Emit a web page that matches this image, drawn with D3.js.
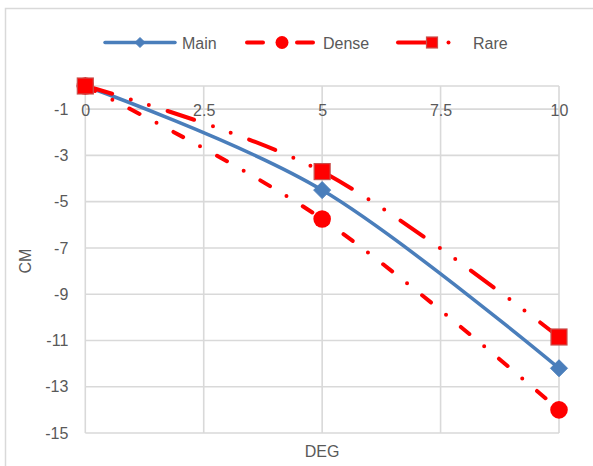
<!DOCTYPE html>
<html>
<head>
<meta charset="utf-8">
<script src="https://cdn.jsdelivr.net/npm/d3@7"></script>
<style>
  html, body { margin: 0; padding: 0; background: #fff; }
  svg { display: block; }
  text { font-family: "Liberation Sans", Arial, sans-serif; fill: #595959; }
</style>
</head>
<body>
<script>
// Deflection (CM) against angle (DEG) for three configurations
const degrees = [0, 5, 10];
const mainValues = [0, -4.5, -12.2];
const denseValues = [0, -5.75, -14.0];
const rareValues = [0, -3.7, -10.85];
const seriesNames = ["Main", "Dense", "Rare"];
const xTicks = [0, 2.5, 5, 7.5, 10];
const yTicks = [-1, -3, -5, -7, -9, -11, -13, -15];

const W = 593, H = 466;
const plot = { left: 85.3, right: 559, top: 86, bottom: 433 };
const fontSize = "16px";

const svg = d3.select("body").append("svg").attr("width", W).attr("height", H);

// chart area outline (left and top edges visible)
svg.append("path")
  .attr("d", `M5.5,${H}V8.5H${W}`)
  .attr("fill", "none").attr("stroke", "#d9d9d9").attr("stroke-width", 1.5);

const x = d3.scaleLinear().domain([0, 10]).range([plot.left, plot.right]);
const y = d3.scaleLinear().domain([0, -15]).range([plot.top, plot.bottom]);

// gridlines
const grid = svg.append("g").attr("stroke", "#d9d9d9").attr("stroke-width", 1.6);
grid.selectAll("line.h").data([0, ...yTicks]).join("line").attr("class", "h")
  .attr("x1", plot.left).attr("x2", plot.right)
  .attr("y1", d => y(d)).attr("y2", d => y(d));
grid.selectAll("line.v").data(xTicks).join("line").attr("class", "v")
  .attr("y1", plot.top).attr("y2", plot.bottom)
  .attr("x1", d => x(d)).attr("x2", d => x(d));

// y axis labels (plain hyphen minus)
const yAxis = d3.axisLeft(y).tickValues(yTicks).tickSize(0).tickPadding(17)
  .tickFormat(d => String(d));
const gy = svg.append("g").attr("transform", `translate(${plot.left},0)`).call(yAxis);
gy.select(".domain").remove();
gy.selectAll("text").style("font-size", fontSize).style("font-family", null).attr("fill", "#595959");

// x axis labels, below the top edge
const xAxis = d3.axisBottom(x).tickValues(xTicks).tickSize(0).tickPadding(19)
  .tickFormat(d => String(d));
const gx = svg.append("g").attr("transform", `translate(0,${plot.top})`).call(xAxis);
gx.select(".domain").remove();
gx.selectAll("text").style("font-size", fontSize).style("font-family", null).attr("fill", "#595959");

// axis titles
svg.append("text").attr("x", (plot.left + plot.right) / 2).attr("y", 456.5)
  .attr("text-anchor", "middle").style("font-size", fontSize).text("DEG");
svg.append("text").attr("transform", `translate(31,261) rotate(-90)`)
  .attr("text-anchor", "middle").style("font-size", fontSize).text("CM");

const styles = {
  Main:  { color: "#4a7ebb", width: 3.5, dash: null, marker: "diamond" },
  Dense: { color: "#ff0000", width: 4, dash: "11.3 19.2 0 19.2", marker: "circle" },
  Rare:  { color: "#ff0000", width: 4, dash: "28 19.7 0 18.8 0 19.7", marker: "square" }
};
const seriesValues = { Main: mainValues, Dense: denseValues, Rare: rareValues };

const line = d3.line().x(d => x(d[0])).y(d => y(d[1])).curve(d3.curveCardinal.tension(0));

function drawMarker(g, kind, cx, cy, size, color) {
  if (kind === "diamond") {
    g.append("path").attr("d", `M${cx},${cy - size}L${cx + size},${cy}L${cx},${cy + size}L${cx - size},${cy}Z`)
      .attr("fill", color).attr("stroke", color).attr("stroke-width", 1);
  } else if (kind === "circle") {
    g.append("circle").attr("cx", cx).attr("cy", cy).attr("r", size).attr("fill", color);
  } else {
    g.append("rect").attr("x", cx - size).attr("y", cy - size)
      .attr("width", size * 2).attr("height", size * 2)
      .attr("fill", color).attr("stroke", "#c8504d").attr("stroke-width", 1.2);
  }
}

const markerSize = { diamond: 8.5, circle: 8.8, square: 8 };

seriesNames.forEach(name => {
  const st = styles[name];
  const pts = degrees.map((d, i) => [d, seriesValues[name][i]]);
  const g = svg.append("g");
  g.append("path").attr("d", line(pts))
    .attr("fill", "none").attr("stroke", st.color).attr("stroke-width", st.width)
    .attr("stroke-linecap", "round")
    .attr("stroke-dasharray", st.dash);
  pts.forEach(p => drawMarker(g, st.marker, x(p[0]), y(p[1]), markerSize[st.marker], st.color));
});

// legend
const legendY = 42.5;
const lg = svg.append("g");
// Main: solid line with diamond
lg.append("line").attr("x1", 105).attr("x2", 175).attr("y1", legendY).attr("y2", legendY)
  .attr("stroke", styles.Main.color).attr("stroke-width", 3.5).attr("stroke-linecap", "round");
drawMarker(lg, "diamond", 140, legendY, 5, styles.Main.color);
lg.append("text").attr("x", 182).attr("y", legendY + 6).style("font-size", fontSize).text(seriesNames[0]);
// Dense: dash, circle, dash
[[247, 263], [297, 313]].forEach(([a, b]) =>
  lg.append("line").attr("x1", a).attr("x2", b).attr("y1", legendY).attr("y2", legendY)
    .attr("stroke", "#ff0000").attr("stroke-width", 4).attr("stroke-linecap", "round"));
drawMarker(lg, "circle", 282, legendY, 6.5, "#ff0000");
lg.append("text").attr("x", 323).attr("y", legendY + 6).style("font-size", fontSize).text(seriesNames[1]);
// Rare: long dash, square, dot
lg.append("line").attr("x1", 398).attr("x2", 428).attr("y1", legendY).attr("y2", legendY)
  .attr("stroke", "#ff0000").attr("stroke-width", 4).attr("stroke-linecap", "round");
drawMarker(lg, "square", 432, legendY, 5.5, "#ff0000");
lg.append("circle").attr("cx", 448.5).attr("cy", legendY).attr("r", 2).attr("fill", "#ff0000");
lg.append("text").attr("x", 473).attr("y", legendY + 6).style("font-size", fontSize).text(seriesNames[2]);
</script>
</body>
</html>
